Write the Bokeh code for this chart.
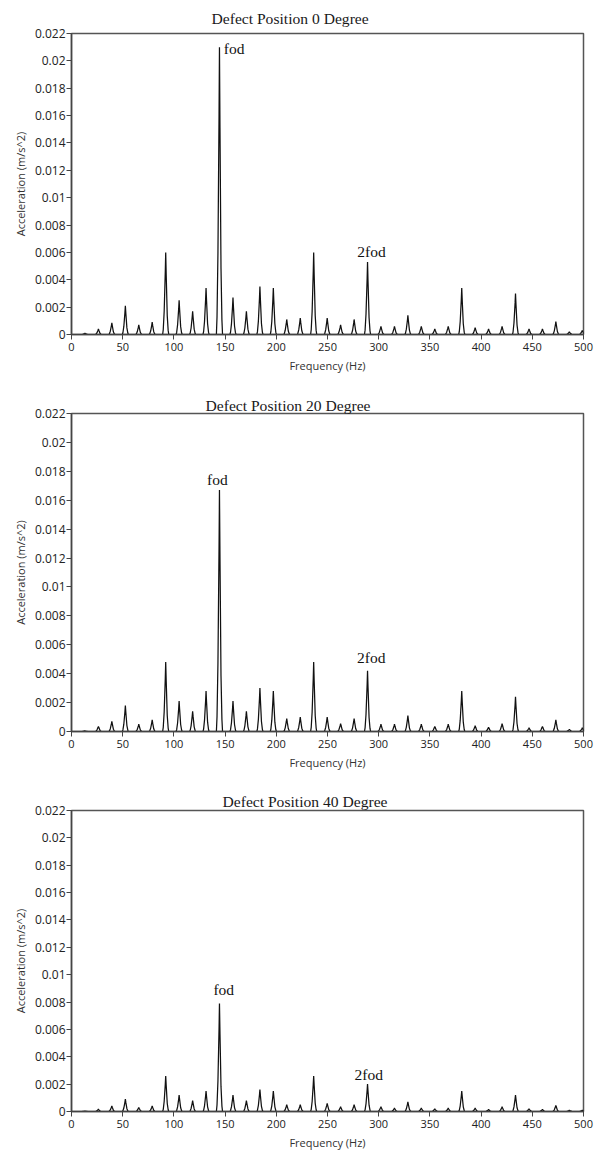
from bokeh.plotting import figure
from bokeh.layouts import column
from bokeh.models import FixedTicker, CustomJSTickFormatter, Range1d, ColumnDataSource
from bokeh.embed import file_html
from bokeh.resources import INLINE
from bokeh.core.properties import value

# ---- data ----
peak_freq = [13.1, 26.3, 39.4, 52.6, 65.7, 78.8, 92.0, 105.1, 118.3, 131.4,
             144.5, 157.7, 170.8, 184.0, 197.1, 210.2, 223.4, 236.5, 249.7, 262.8,
             276.0, 289.1, 302.2, 315.4, 328.5, 341.6, 354.8, 367.9, 381.1, 394.2,
             407.3, 420.5, 433.6, 446.8, 459.9, 473.0, 486.2, 498.8]

amp_0deg = [0.0001, 0.0004, 0.00085, 0.0021, 0.0007, 0.0009, 0.0060, 0.0025, 0.0017, 0.0034,
            0.0210, 0.0027, 0.0017, 0.0035, 0.0034, 0.0011, 0.0012, 0.0060, 0.0012, 0.0007,
            0.0011, 0.0053, 0.0006, 0.0006, 0.0014, 0.0006, 0.0004, 0.0006, 0.0034, 0.0005,
            0.0004, 0.0006, 0.0030, 0.0004, 0.0004, 0.00095, 0.0002, 0.0003]

amp_20deg = [0.00005, 0.00035, 0.0007, 0.0018, 0.0005, 0.0008, 0.0048, 0.0021, 0.0014, 0.0028,
             0.0167, 0.0021, 0.0014, 0.0030, 0.0028, 0.0009, 0.0010, 0.0048, 0.0010, 0.00055,
             0.0009, 0.0042, 0.0005, 0.0005, 0.0011, 0.0005, 0.00035, 0.0005, 0.0028, 0.0004,
             0.0003, 0.00055, 0.0024, 0.00025, 0.00035, 0.0008, 0.00015, 0.00025]

amp_40deg = [0.00003, 0.00017, 0.0004, 0.0009, 0.0003, 0.0004, 0.0026, 0.0012, 0.0008, 0.0015,
             0.0079, 0.0012, 0.0008, 0.0016, 0.0015, 0.0005, 0.0005, 0.0026, 0.0006, 0.00035,
             0.0005, 0.0020, 0.00035, 0.00025, 0.0007, 0.00025, 0.0002, 0.00025, 0.0015, 0.00025,
             0.00015, 0.00035, 0.0012, 0.0002, 0.00015, 0.00045, 0.0001, 0.0001]

titles = ["Defect Position 0 Degree", "Defect Position 20 Degree", "Defect Position 40 Degree"]

x_ticks = [0, 50, 100, 150, 200, 250, 300, 350, 400, 450, 500]
y_ticks = [0, 0.002, 0.004, 0.006, 0.008, 0.01, 0.012, 0.014, 0.016, 0.018, 0.02, 0.022]

# annotation anchors (data coords): fod and 2fod
ann_x = [[148.7, 293.0], [142.5, 292.8], [148.7, 290.3]]
ann_y = [[0.0209, 0.0061], [0.0174, 0.0051], [0.0089, 0.0027]]
ann_align = [["left", "center"], ["center", "center"], ["center", "center"]]

# spectral line shape around each peak (offset in Hz, fraction of peak height)
shape_dx = [-3.0, -2.4, -1.5, -0.4, 0.0, 0.5, 1.5, 2.4, 3.0]
shape_rel = [0.0, 0.06, 0.28, 0.77, 1.0, 0.72, 0.23, 0.05, 0.0]


def spectrum(amps):
    xs, ys = [0.0], [0.0]
    for f, a in zip(peak_freq, amps):
        for dx, r in zip(shape_dx, shape_rel):
            xs.append(f + dx)
            ys.append(a * r)
    xs.append(500.0)
    ys.append(0.0)
    return xs, ys


layout_specs = [
    # height, top, bottom, left, right, title offset, title standoff
    dict(h=385, top=33, bottom=51, left=67, right=14, toff=140, tst=13),
    dict(h=398, top=28, bottom=52, left=69, right=13, toff=134, tst=0),
    dict(h=369, top=27, bottom=39, left=71, right=16, toff=151, tst=1),
]

fmt = CustomJSTickFormatter(code="""
let s = tick.toFixed(3);
s = s.replace(/0+$/, '').replace(/\\.$/, '');
return s;
""")

figs = []
for i, amps in enumerate([amp_0deg, amp_20deg, amp_40deg]):
    spec = layout_specs[i]
    p = figure(width=599, height=spec["h"], x_range=Range1d(0, 500), y_range=Range1d(0, 0.022),
               output_backend="svg", toolbar_location=None,
               min_border_top=spec["top"], min_border_bottom=spec["bottom"],
               min_border_left=spec["left"], min_border_right=spec["right"])
    p.title.text = titles[i]
    p.title.align = "left"
    p.title.offset = spec["toff"]
    p.title.standoff = spec["tst"]
    p.title.text_font = "Liberation Serif"
    p.title.text_font_size = "15.6px"
    p.title.text_font_style = "normal"
    p.title.text_color = "#1a1a1a"

    xs, ys = spectrum(amps)
    p.line(xs, ys, line_color="#111111", line_width=1.25)

    src = ColumnDataSource(dict(x=ann_x[i], y=ann_y[i], t=["fod", "2fod"], a=ann_align[i]))
    p.text(x="x", y="y", text="t", source=src, text_align="a", text_baseline="middle",
           text_font=value("Liberation Serif"), text_font_size="15.5px", text_color="#111111")

    p.grid.visible = False
    p.outline_line_color = "#555555"
    p.outline_line_width = 1.5

    p.xaxis.ticker = FixedTicker(ticks=x_ticks)
    p.yaxis.ticker = FixedTicker(ticks=y_ticks)
    p.yaxis.formatter = fmt
    for ax in (p.xaxis, p.yaxis):
        ax.axis_line_color = "#444444"
        ax.axis_line_width = 1.5
        ax.major_tick_in = 0
        ax.major_tick_out = 5
        ax.minor_tick_line_color = None
        ax.major_tick_line_color = "#444444"
        ax.major_label_text_font = "Open Sans"
        ax.major_label_text_color = "#222222"
        ax.axis_label_text_font = "Open Sans"
        ax.axis_label_text_font_style = "normal"
        ax.axis_label_text_font_size = "11px"
        ax.axis_label_text_color = "#333333"
    p.xaxis.major_label_text_font_size = "11px"
    p.yaxis.major_label_text_font_size = "12px"
    p.xaxis.major_label_standoff = 3
    p.yaxis.major_label_standoff = 1
    p.xaxis.axis_label = "Frequency (Hz)"
    p.yaxis.axis_label = "Acceleration (m/s^2)"
    p.xaxis.axis_label_standoff = 4
    p.yaxis.axis_label_standoff = 4
    figs.append(p)

layout = column(*figs, spacing=0)
open("out.html", "w").write(file_html(layout, INLINE))
